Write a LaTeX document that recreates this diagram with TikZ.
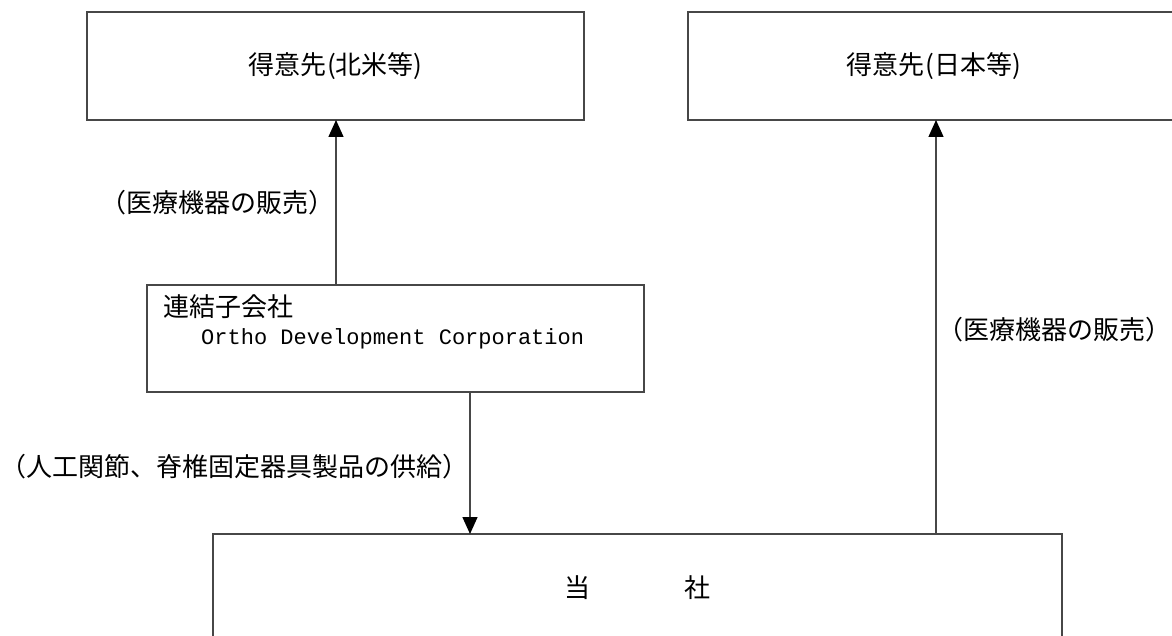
\documentclass[tikz,border=0pt]{standalone}
\usepackage{fontspec}
\newfontfamily\jp{Noto Sans CJK JP}
\newfontfamily\monolat{Liberation Mono}
\usetikzlibrary{arrows.meta}
\tikzset{
  box/.style={draw=black!72, line width=1.4pt, inner sep=0pt, minimum width=497pt, minimum height=108pt, font=\jp\fontsize{26}{30}\selectfont},
  lbl/.style={inner sep=0pt, font=\jp\fontsize{26}{30}\selectfont},
  conn/.style={draw=black!72, line width=1.4pt, -{Triangle[width=15pt,length=17pt,color=black]}}
}
\begin{document}
\begin{tikzpicture}[x=1pt,y=-1pt]
\useasboundingbox (0,0) rectangle (1172,636);
\clip (0,0) rectangle (1172,636);
\node[box] (na) at (335.5,66) {得意先\kern1pt(北米等)};
\node[box, minimum width=492pt] (jp) at (934,66) {得意先\kern1pt(日本等)};
\node[box, minimum height=107pt] (sub) at (395.5,338.5) {};
\node[lbl, anchor=west] (subjp) at (163,307) {連結子会社};
\node[lbl, anchor=west, font=\monolat\fontsize{22}{26}\selectfont] (suben) at (201,339) {Ortho Development Corporation};
\node[box, minimum width=849pt] (co) at (637.5,588) {当\hspace{4.6em}\llap{社}\hspace{0.07em}};
\coordinate (a1s) at (336,284.5);
\coordinate (a1e) at (336,120);
\coordinate (a2s) at (470,392);
\coordinate (a2e) at (470,534);
\coordinate (a3s) at (936,534);
\coordinate (a3e) at (936,120);
\draw[conn] (a1s) -- (a1e);
\draw[conn] (a2s) -- (a2e);
\draw[conn] (a3s) -- (a3e);
\node[lbl] (l1) at (217,203) {（医療機器の販売）};
\node[lbl, anchor=west] (l2) at (0,467) {（人工関節、脊椎固定器具製品の供給）};
\node[lbl] (l3) at (1054,330) {（医療機器の販売）};
\end{tikzpicture}
\end{document}
